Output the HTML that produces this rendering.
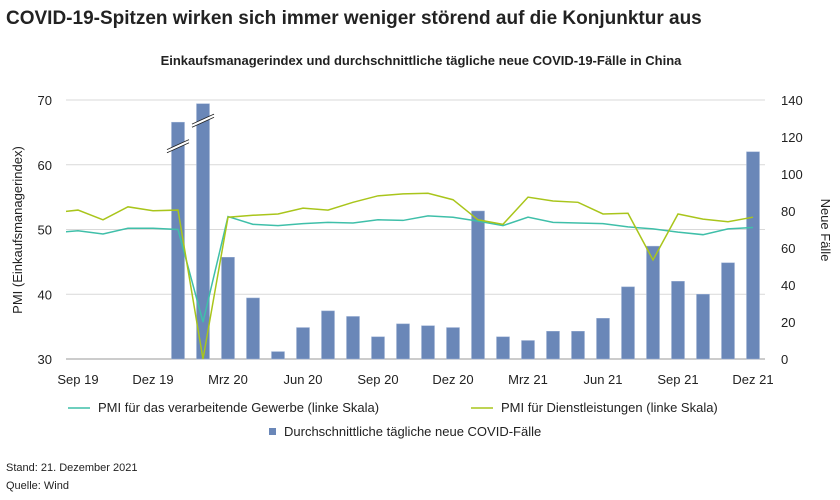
<!DOCTYPE html>
<html><head><meta charset="utf-8"><style>
body{margin:0;background:#fff;font-family:"Liberation Sans",sans-serif;}
svg text{font-family:"Liberation Sans",sans-serif;fill:#222;}
</style></head><body>
<svg id="c" width="840" height="495" viewBox="0 0 840 495">
<defs><clipPath id="clip"><rect x="66" y="0" width="699" height="495"/></clipPath></defs>
<text x="6" y="24" font-size="19" font-weight="bold">COVID-19-Spitzen wirken sich immer weniger störend auf die Konjunktur aus</text>
<text x="421" y="65" font-size="13" font-weight="bold" text-anchor="middle">Einkaufsmanagerindex und durchschnittliche tägliche neue COVID-19-Fälle in China</text>
<g id="grid"></g><g id="bars"></g><g id="lines"></g><g id="axes"></g>
<text transform="translate(22,230) rotate(-90)" font-size="13" text-anchor="middle">PMI (Einkaufsmanagerindex)</text>
<text transform="translate(821,230) rotate(90)" font-size="13" text-anchor="middle">Neue Fälle</text>
<g font-size="13">
<line x1="68" y1="408" x2="90" y2="408" stroke="#3fbfa9" stroke-width="1.5"/>
<text x="98" y="412">PMI für das verarbeitende Gewerbe (linke Skala)</text>
<line x1="471" y1="408" x2="493" y2="408" stroke="#a9c51b" stroke-width="1.5"/>
<text x="501" y="412">PMI für Dienstleistungen (linke Skala)</text>
<rect x="269" y="428" width="7" height="7" fill="#6a87b8"/>
<text x="284" y="436">Durchschnittliche tägliche neue COVID-Fälle</text>
</g>
<text x="6" y="471" font-size="11">Stand: 21. Dezember 2021</text>
<text x="6" y="489" font-size="11">Quelle: Wind</text>
</svg>
<script>
const months=["Aug 19","Sep 19","Okt 19","Nov 19","Dez 19","Jan 20","Feb 20","Mrz 20","Apr 20","Mai 20","Jun 20","Jul 20","Aug 20","Sep 20","Okt 20","Nov 20","Dez 20","Jan 21","Feb 21","Mrz 21","Apr 21","Mai 21","Jun 21","Jul 21","Aug 21","Sep 21","Okt 21","Nov 21","Dez 21"];
const manufacturing=[49.5,49.8,49.3,50.2,50.2,50.0,35.7,52.0,50.8,50.6,50.9,51.1,51.0,51.5,51.4,52.1,51.9,51.3,50.6,51.9,51.1,51.0,50.9,50.4,50.1,49.6,49.2,50.1,50.3];
const services=[52.6,53.0,51.5,53.5,52.9,53.0,30.0,51.9,52.2,52.4,53.3,53.0,54.2,55.2,55.5,55.6,54.6,51.5,50.8,55.0,54.4,54.2,52.4,52.5,45.3,52.4,51.6,51.2,51.9];
const cases=[null,null,null,null,null,128,138,55,33,4,17,26,23,12,19,18,17,80,12,10,15,15,22,39,61,42,35,52,112];
const leftTicks=[30,40,50,60,70];
const rightTicks=[0,20,40,60,80,100,120,140];
const xLabels=["Sep 19","Dez 19","Mrz 20","Jun 20","Sep 20","Dez 20","Mrz 21","Jun 21","Sep 21","Dez 21"];
const ns="http://www.w3.org/2000/svg";
const L=66,R=765,T=100,B=359;
const x=i=>53+i*25;
const yL=v=>B-(v-30)/40*(B-T);
const yR=v=>B-v/140*(B-T);
function mk(tag,attrs,parent){const e=document.createElementNS(ns,tag);for(const k in attrs)e.setAttribute(k,attrs[k]);document.getElementById(parent).appendChild(e);return e;}
leftTicks.forEach(v=>{
 const g=mk("line",{x1:L,x2:R,y1:yL(v),y2:yL(v),stroke:v===30?"#999":"#d9d9d9","stroke-width":1},"grid");
 
 
 const t=mk("text",{x:52,y:yL(v)+5,"font-size":13,"text-anchor":"end"},"axes");t.textContent=v;
 
 
});
rightTicks.forEach(v=>{
 const t=mk("text",{x:781,y:yR(v)+5,"font-size":13},"axes");t.textContent=v;
 
 
});
xLabels.forEach(l=>{
 const i=months.indexOf(l);
 const t=mk("text",{x:x(i),y:384,"font-size":13,"text-anchor":"middle"},"axes");t.textContent=l;
 
 
});
cases.forEach((v,i)=>{
 if(v===null)return;
 const r=mk("rect",{x:x(i)-6.5,y:yR(v),width:13,height:B-yR(v),fill:"#6a87b8",stroke:"#9fb3d6","stroke-width":0.5},"bars");
 
 
});
[5,6].forEach(i=>{
 const yy=yR(cases[i])+(i===5?24:17);
 [-1.5,1.5].forEach(d=>{
  const l=mk("line",{x1:x(i)-11,y1:yy+5+d,x2:x(i)+11,y2:yy-5+d,stroke:"#222","stroke-width":1},"bars");
  
  
 });
 const w=mk("line",{x1:x(i)-11,y1:yy+5,x2:x(i)+11,y2:yy-5,stroke:"#fff","stroke-width":2},"bars");
 
 
});
function line(data,color,name){
 const p=mk("polyline",{points:data.map((v,i)=>x(i)+","+yL(v)).join(" "),fill:"none",stroke:color,"stroke-width":1.5,"clip-path":"url(#clip)"},"lines");
 
 
}
line(manufacturing,"#3fbfa9","line-manufacturing-pmi");
line(services,"#a9c51b","line-services-pmi");
</script>
</body></html>
